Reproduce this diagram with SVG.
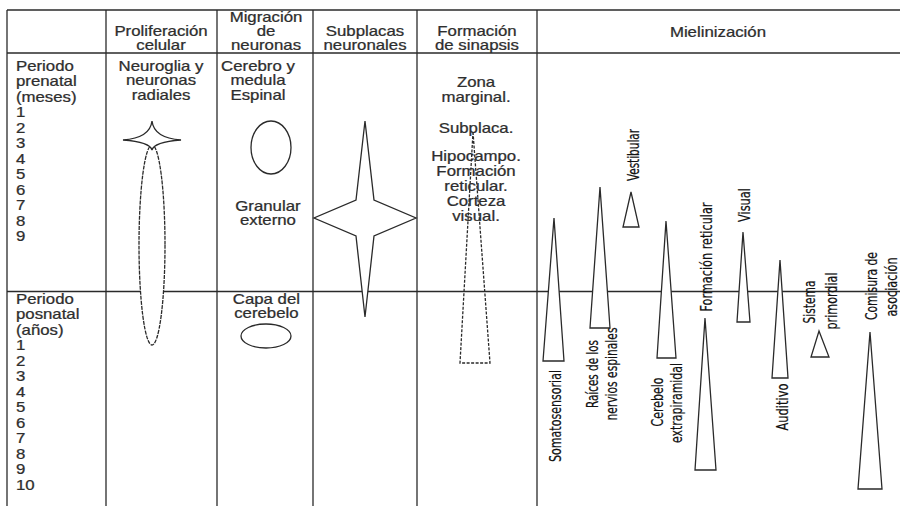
<svg xmlns="http://www.w3.org/2000/svg" width="900" height="506" viewBox="0 0 900 506">
<style>
.ln{stroke:#2a2a2a;stroke-width:1.3;fill:none}
.sh{stroke:#2a2a2a;stroke-width:1.3;fill:#fff}
.t{font-family:"Liberation Sans",Arial,sans-serif;font-size:14px;fill:#2e2e2e;stroke:#2e2e2e;stroke-width:0.25}
.c{text-anchor:middle}
.r{font-family:"Liberation Sans Narrow","DejaVu Sans Condensed","Liberation Sans",sans-serif;font-size:15px;fill:#111;stroke:#111;stroke-width:0.2;text-anchor:middle}
</style>
<rect width="900" height="506" fill="#fff"/>
<g id="grid">
<line class="ln" x1="7" y1="10" x2="900" y2="10"/>
<line class="ln" x1="7" y1="53" x2="900" y2="53"/>
<line class="ln" x1="7" y1="291.5" x2="900" y2="291.5"/>
<line class="ln" x1="7" y1="10" x2="7" y2="506"/>
<line class="ln" x1="106" y1="10" x2="106" y2="506"/>
<line class="ln" x1="217" y1="10" x2="217" y2="506"/>
<line class="ln" x1="313" y1="10" x2="313" y2="506"/>
<line class="ln" x1="417" y1="10" x2="417" y2="506"/>
<line class="ln" x1="537" y1="10" x2="537" y2="506"/>
</g>
<g id="proliferacion">
<ellipse class="sh" cx="152" cy="245" rx="13" ry="100" stroke-dasharray="4 1"/>
<path class="sh" d="M152,121 Q154,138 181,140 Q154,142 152,150 Q150,142 123,140 Q150,138 152,121 Z"/>
</g>
<g id="migracion">
<ellipse class="sh" cx="271" cy="147.5" rx="20" ry="26.5"/>
<ellipse class="sh" cx="266" cy="336" rx="25" ry="12"/>
</g>
<g id="subplacas">
<path class="sh" d="M365,121 L374,200 L416,218 L374,236 L365,317 L356,236 L314,218 L356,200 Z"/>
</g>
<g id="sinapsis">
<path class="ln" d="M473,132 L490,363 L460,363 Z" stroke-dasharray="3 1.5"/>
</g>
<g id="mielinizacion">
<path class="sh" d="M554,218 L564,361 L543,361 Z"/>
<path class="sh" d="M600,187 L610,328 L590,328 Z"/>
<path class="sh" d="M631,192 L639,227 L623,227 Z"/>
<path class="sh" d="M666,221 L676,358 L657,358 Z"/>
<path class="sh" d="M705,318 L716,470 L695,470 Z"/>
<path class="sh" d="M743,232 L750,322 L737,322 Z"/>
<path class="sh" d="M780,260 L788,378 L772,378 Z"/>
<path class="sh" d="M819,331 L829,357 L811,357 Z"/>
<path class="sh" d="M870,332 L882,489 L858,489 Z"/>
</g>
<g id="texts" transform="scale(1.2 1)">
<text class="t c" x="134.2" y="36">Proliferación</text>
<text class="t c" x="134.2" y="50">celular</text>
<text class="t c" x="221.7" y="22">Migración</text>
<text class="t c" x="221.7" y="36">de</text>
<text class="t c" x="221.7" y="50">neuronas</text>
<text class="t c" x="304.2" y="36">Subplacas</text>
<text class="t c" x="304.2" y="50">neuronales</text>
<text class="t c" x="397.5" y="36">Formación</text>
<text class="t c" x="397.5" y="50">de sinapsis</text>
<text class="t c" x="598.3" y="37">Mielinización</text>
<text class="t" x="13.3" y="71">Periodo</text>
<text class="t" x="13.3" y="86.5">prenatal</text>
<text class="t" x="13.3" y="102">(meses)</text>
<text class="t" x="13.3" y="117.5">1</text>
<text class="t" x="13.3" y="133">2</text>
<text class="t" x="13.3" y="148.5">3</text>
<text class="t" x="13.3" y="164">4</text>
<text class="t" x="13.3" y="179.5">5</text>
<text class="t" x="13.3" y="195">6</text>
<text class="t" x="13.3" y="210.5">7</text>
<text class="t" x="13.3" y="226">8</text>
<text class="t" x="13.3" y="241.5">9</text>
<text class="t" x="13.3" y="304">Periodo</text>
<text class="t" x="13.3" y="319.5">posnatal</text>
<text class="t" x="13.3" y="335">(años)</text>
<text class="t" x="13.3" y="350.5">1</text>
<text class="t" x="13.3" y="366">2</text>
<text class="t" x="13.3" y="381.5">3</text>
<text class="t" x="13.3" y="397">4</text>
<text class="t" x="13.3" y="412.5">5</text>
<text class="t" x="13.3" y="428">6</text>
<text class="t" x="13.3" y="443.5">7</text>
<text class="t" x="13.3" y="459">8</text>
<text class="t" x="13.3" y="474.5">9</text>
<text class="t" x="13.3" y="490">10</text>
<text class="t c" x="134.2" y="71">Neuroglia y</text>
<text class="t c" x="134.2" y="85.5">neuronas</text>
<text class="t c" x="134.2" y="100">radiales</text>
<text class="t c" x="215" y="71">Cerebro y</text>
<text class="t c" x="215" y="85.5">medula</text>
<text class="t c" x="215" y="100">Espinal</text>
<text class="t c" x="223.3" y="211">Granular</text>
<text class="t c" x="223.3" y="225">externo</text>
<text class="t c" x="222" y="304">Capa del</text>
<text class="t c" x="222" y="318">cerebelo</text>
<text class="t c" x="396.7" y="87">Zona</text>
<text class="t c" x="396.7" y="102">marginal.</text>
<text class="t c" x="396.7" y="133">Subplaca.</text>
<text class="t c" x="396.7" y="161">Hipocampo.</text>
<text class="t c" x="396.7" y="176">Formación</text>
<text class="t c" x="396.7" y="191">reticular.</text>
<text class="t c" x="396.7" y="206">Corteza</text>
<text class="t c" x="396.7" y="221">visual.</text>
</g>
<g id="labels">
<text class="r" transform="translate(561,416) rotate(-90)" textLength="92" lengthAdjust="spacingAndGlyphs">Somatosensorial</text>
<text class="r" transform="translate(598,374) rotate(-90)" textLength="68" lengthAdjust="spacingAndGlyphs">Raíces de los</text>
<text class="r" transform="translate(617,374) rotate(-90)" textLength="93" lengthAdjust="spacingAndGlyphs">nervios espinales</text>
<text class="r" transform="translate(639,155) rotate(-90)" textLength="52" lengthAdjust="spacingAndGlyphs">Vestibular</text>
<text class="r" transform="translate(663,402) rotate(-90)" textLength="49" lengthAdjust="spacingAndGlyphs">Cerebelo</text>
<text class="r" transform="translate(682,403) rotate(-90)" textLength="80" lengthAdjust="spacingAndGlyphs">extrapiramidal</text>
<text class="r" transform="translate(712,257) rotate(-90)" textLength="109" lengthAdjust="spacingAndGlyphs">Formación reticular</text>
<text class="r" transform="translate(750,205) rotate(-90)" textLength="34" lengthAdjust="spacingAndGlyphs">Visual</text>
<text class="r" transform="translate(788,407) rotate(-90)" textLength="47" lengthAdjust="spacingAndGlyphs">Auditivo</text>
<text class="r" transform="translate(815,302) rotate(-90)" textLength="43" lengthAdjust="spacingAndGlyphs">Sistema</text>
<text class="r" transform="translate(837,301) rotate(-90)" textLength="57" lengthAdjust="spacingAndGlyphs">primordial</text>
<text class="r" transform="translate(877,286) rotate(-90)" textLength="68" lengthAdjust="spacingAndGlyphs">Comisura de</text>
<text class="r" transform="translate(897,287) rotate(-90)" textLength="59" lengthAdjust="spacingAndGlyphs">asociación</text>
</g>
</svg>
